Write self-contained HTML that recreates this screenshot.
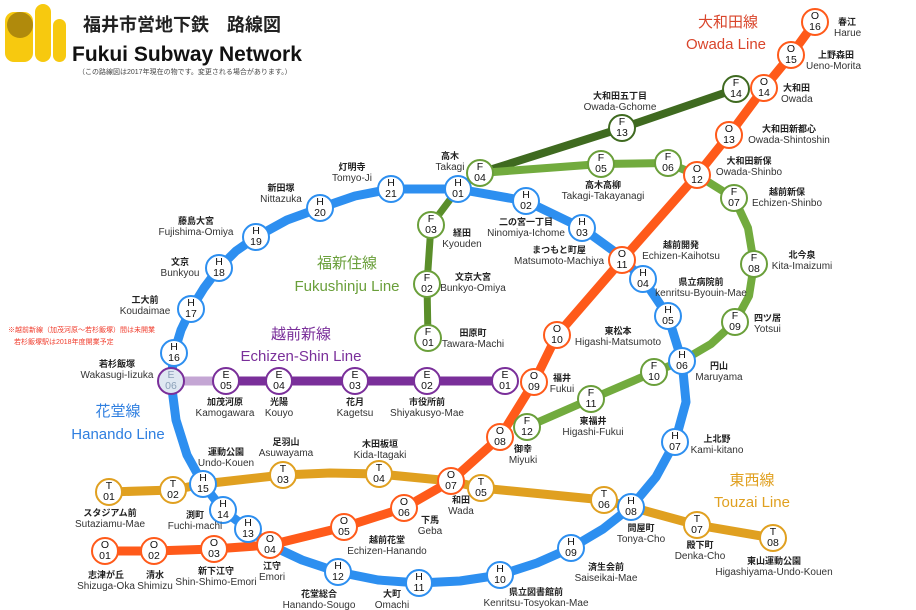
<!DOCTYPE html>
<html><head><meta charset="utf-8"><style>
html,body{margin:0;padding:0;background:#fff;}
svg{display:block;}
text{font-family:"Liberation Sans","Noto Sans CJK JP",sans-serif;}
.j{font-size:9px;font-weight:bold;fill:#222;}
.e{font-size:10px;fill:#333;}
.s text{font-size:10.5px;fill:#111;text-anchor:middle;}
.s circle{fill:#fff;stroke-width:2;}
</style></head><body>
<svg width="916" height="610" viewBox="0 0 916 610" xmlns="http://www.w3.org/2000/svg">
<rect x="5" y="12" width="28" height="50" rx="9" fill="#f7c90f"/>
<rect x="35" y="4" width="16" height="58" rx="8" fill="#f7c90f"/>
<rect x="53" y="19" width="13" height="43" rx="6.5" fill="#f7c90f"/>
<circle cx="20" cy="25" r="13" fill="#b08a0c"/>
<text x="83" y="31" style="font-size:18px;font-weight:bold;fill:#222">福井市営地下鉄　路線図</text>
<text x="72" y="61" style="font-size:21px;font-weight:bold;fill:#111">Fukui Subway Network</text>
<text x="78" y="74" style="font-size:7px;fill:#444">（この路線図は2017年現在の物です。変更される場合があります。）</text>
<text x="8" y="332" style="font-size:7px;fill:#f03a2a">※越前新線（加茂河原～若杉飯塚）間は未開業</text>
<text x="14" y="344" style="font-size:7px;fill:#f03a2a">若杉飯塚駅は2018年度開業予定</text>
<g style="text-anchor:middle">
<text x="728" y="27" style="font-size:15px;fill:#d9452b">大和田線</text>
<text x="726" y="49" style="font-size:15px;fill:#d9452b">Owada Line</text>
<text x="347" y="268" style="font-size:15px;fill:#6a9f3a">福新住線</text>
<text x="347" y="291" style="font-size:15px;fill:#6a9f3a">Fukushinju Line</text>
<text x="301" y="339" style="font-size:15px;fill:#7a2f9a">越前新線</text>
<text x="301" y="361" style="font-size:15px;fill:#7a2f9a">Echizen-Shin Line</text>
<text x="118" y="416" style="font-size:15px;fill:#2f7fe0">花堂線</text>
<text x="118" y="439" style="font-size:15px;fill:#2f7fe0">Hanando Line</text>
<text x="752" y="485" style="font-size:15px;fill:#e0a020">東西線</text>
<text x="752" y="507" style="font-size:15px;fill:#e0a020">Touzai Line</text>
</g>
<g fill="none" stroke-linejoin="round" stroke-linecap="round">
<polyline stroke="#2d8ff0" stroke-width="9" points="391,189 458,189 526,201 582,228 615,252 643,279 668,316 682,361 686,402 675,442 656,477 631,507 603,529 571,548 537,563 500,575 460,581 419,583 378,580 338,572 302,560 270,545 248,529 223,510 203,484 187,455 176,420 171,381 174,353 181,330 191,309 204,288 219,268 236,251 256,237 287,220 320,208 355,196 391,189"/>
<polyline stroke="#5a8e2a" stroke-width="7" points="428,338 427,284 431,225 458,189 480,173"/>
<polyline stroke="#3f6a20" stroke-width="8" points="480,173 622,128 736,89"/>
<polyline stroke="#72ab3e" stroke-width="8" points="480,173 601,164 668,163 697,175 734,198 748,228 754,264 749,296 735,322 711,344 682,361 654,372 591,399 527,427"/>
<polyline stroke="#c4a6d4" stroke-width="9" points="171,381 226,381"/>
<polyline stroke="#7a2f9a" stroke-width="9" points="226,381 505,381"/>
<polyline stroke="#e0a020" stroke-width="9" points="109,492 173,490 203,484 283,475 330,473 379,474 451,481 481,488 604,500 631,507 697,525 773,538"/>
<polyline stroke="#ff5a1a" stroke-width="9" points="105,551 154,551 214,549 270,545 344,527 404,508 451,481 500,437 534,382 557,335 622,260 697,175 729,135 764,88 791,55 815,22"/>
</g>
<g class="s">
<g stroke="#2d8ff0">
<circle cx="458" cy="189" r="13"/><circle cx="526" cy="201" r="13"/><circle cx="582" cy="228" r="13"/><circle cx="643" cy="279" r="13"/><circle cx="668" cy="316" r="13"/><circle cx="682" cy="361" r="13"/><circle cx="675" cy="442" r="13"/><circle cx="631" cy="507" r="13"/><circle cx="571" cy="548" r="13"/><circle cx="500" cy="575" r="13"/><circle cx="419" cy="583" r="13"/><circle cx="338" cy="572" r="13"/><circle cx="248" cy="529" r="13"/><circle cx="223" cy="510" r="13"/><circle cx="203" cy="484" r="13"/><circle cx="174" cy="353" r="13"/><circle cx="191" cy="309" r="13"/><circle cx="219" cy="268" r="13"/><circle cx="256" cy="237" r="13"/><circle cx="320" cy="208" r="13"/><circle cx="391" cy="189" r="13"/>
</g>
<g stroke="#ff5a1a">
<circle cx="105" cy="551" r="13"/><circle cx="154" cy="551" r="13"/><circle cx="214" cy="549" r="13"/><circle cx="270" cy="545" r="13"/><circle cx="344" cy="527" r="13"/><circle cx="404" cy="508" r="13"/><circle cx="451" cy="481" r="13"/><circle cx="500" cy="437" r="13"/><circle cx="534" cy="382" r="13"/><circle cx="557" cy="335" r="13"/><circle cx="622" cy="260" r="13"/><circle cx="697" cy="175" r="13"/><circle cx="729" cy="135" r="13"/><circle cx="764" cy="88" r="13"/><circle cx="791" cy="55" r="13"/><circle cx="815" cy="22" r="13"/>
</g>
<g stroke="#6a9f3a">
<circle cx="428" cy="338" r="13"/><circle cx="427" cy="284" r="13"/><circle cx="431" cy="225" r="13"/><circle cx="480" cy="173" r="13"/><circle cx="601" cy="164" r="13"/><circle cx="668" cy="163" r="13"/><circle cx="734" cy="198" r="13"/><circle cx="754" cy="264" r="13"/><circle cx="735" cy="322" r="13"/><circle cx="654" cy="372" r="13"/><circle cx="591" cy="399" r="13"/><circle cx="527" cy="427" r="13"/>
</g>
<g stroke="#3f6a20"><circle cx="622" cy="128" r="13"/><circle cx="736" cy="89" r="13"/></g>
<g stroke="#7a2f9a">
<circle cx="505" cy="381" r="13"/><circle cx="427" cy="381" r="13"/><circle cx="355" cy="381" r="13"/><circle cx="279" cy="381" r="13"/><circle cx="226" cy="381" r="13"/>
<circle cx="171" cy="381" r="13" style="fill:#dfe8f2"/>
</g>
<g stroke="#e0a020">
<circle cx="109" cy="492" r="13"/><circle cx="173" cy="490" r="13"/><circle cx="283" cy="475" r="13"/><circle cx="379" cy="474" r="13"/><circle cx="481" cy="488" r="13"/><circle cx="604" cy="500" r="13"/><circle cx="697" cy="525" r="13"/><circle cx="773" cy="538" r="13"/>
</g>
<text x="458" y="186">H</text><text x="458" y="197">01</text>
<text x="526" y="198">H</text><text x="526" y="209">02</text>
<text x="582" y="225">H</text><text x="582" y="236">03</text>
<text x="643" y="276">H</text><text x="643" y="287">04</text>
<text x="668" y="313">H</text><text x="668" y="324">05</text>
<text x="682" y="358">H</text><text x="682" y="369">06</text>
<text x="675" y="439">H</text><text x="675" y="450">07</text>
<text x="631" y="504">H</text><text x="631" y="515">08</text>
<text x="571" y="545">H</text><text x="571" y="556">09</text>
<text x="500" y="572">H</text><text x="500" y="583">10</text>
<text x="419" y="580">H</text><text x="419" y="591">11</text>
<text x="338" y="569">H</text><text x="338" y="580">12</text>
<text x="248" y="526">H</text><text x="248" y="537">13</text>
<text x="223" y="507">H</text><text x="223" y="518">14</text>
<text x="203" y="481">H</text><text x="203" y="492">15</text>
<text x="174" y="350">H</text><text x="174" y="361">16</text>
<text x="191" y="306">H</text><text x="191" y="317">17</text>
<text x="219" y="265">H</text><text x="219" y="276">18</text>
<text x="256" y="234">H</text><text x="256" y="245">19</text>
<text x="320" y="205">H</text><text x="320" y="216">20</text>
<text x="391" y="186">H</text><text x="391" y="197">21</text>
<text x="105" y="548">O</text><text x="105" y="559">01</text>
<text x="154" y="548">O</text><text x="154" y="559">02</text>
<text x="214" y="546">O</text><text x="214" y="557">03</text>
<text x="270" y="542">O</text><text x="270" y="553">04</text>
<text x="344" y="524">O</text><text x="344" y="535">05</text>
<text x="404" y="505">O</text><text x="404" y="516">06</text>
<text x="451" y="478">O</text><text x="451" y="489">07</text>
<text x="500" y="434">O</text><text x="500" y="445">08</text>
<text x="534" y="379">O</text><text x="534" y="390">09</text>
<text x="557" y="332">O</text><text x="557" y="343">10</text>
<text x="622" y="257">O</text><text x="622" y="268">11</text>
<text x="697" y="172">O</text><text x="697" y="183">12</text>
<text x="729" y="132">O</text><text x="729" y="143">13</text>
<text x="764" y="85">O</text><text x="764" y="96">14</text>
<text x="791" y="52">O</text><text x="791" y="63">15</text>
<text x="815" y="19">O</text><text x="815" y="30">16</text>
<text x="428" y="335">F</text><text x="428" y="346">01</text>
<text x="427" y="281">F</text><text x="427" y="292">02</text>
<text x="431" y="222">F</text><text x="431" y="233">03</text>
<text x="480" y="170">F</text><text x="480" y="181">04</text>
<text x="601" y="161">F</text><text x="601" y="172">05</text>
<text x="668" y="160">F</text><text x="668" y="171">06</text>
<text x="734" y="195">F</text><text x="734" y="206">07</text>
<text x="754" y="261">F</text><text x="754" y="272">08</text>
<text x="735" y="319">F</text><text x="735" y="330">09</text>
<text x="654" y="369">F</text><text x="654" y="380">10</text>
<text x="591" y="396">F</text><text x="591" y="407">11</text>
<text x="527" y="424">F</text><text x="527" y="435">12</text>
<text x="622" y="125">F</text><text x="622" y="136">13</text>
<text x="736" y="86">F</text><text x="736" y="97">14</text>
<text x="505" y="378">E</text><text x="505" y="389">01</text>
<text x="427" y="378">E</text><text x="427" y="389">02</text>
<text x="355" y="378">E</text><text x="355" y="389">03</text>
<text x="279" y="378">E</text><text x="279" y="389">04</text>
<text x="226" y="378">E</text><text x="226" y="389">05</text>
<text x="171" y="378" style="fill:#8aa0b8">E</text><text x="171" y="389" style="fill:#8aa0b8">06</text>
<text x="109" y="489">T</text><text x="109" y="500">01</text>
<text x="173" y="487">T</text><text x="173" y="498">02</text>
<text x="283" y="472">T</text><text x="283" y="483">03</text>
<text x="379" y="471">T</text><text x="379" y="482">04</text>
<text x="481" y="485">T</text><text x="481" y="496">05</text>
<text x="604" y="497">T</text><text x="604" y="508">06</text>
<text x="697" y="522">T</text><text x="697" y="533">07</text>
<text x="773" y="535">T</text><text x="773" y="546">08</text>
</g>
<g style="text-anchor:middle">
<text class="j" x="352" y="170">灯明寺</text><text class="e" x="352" y="181">Tomyo-Ji</text>
<text class="j" x="281" y="191">新田塚</text><text class="e" x="281" y="202">Nittazuka</text>
<text class="j" x="196" y="224">藤島大宮</text><text class="e" x="196" y="235">Fujishima-Omiya</text>
<text class="j" x="180" y="265">文京</text><text class="e" x="180" y="276">Bunkyou</text>
<text class="j" x="145" y="303">工大前</text><text class="e" x="145" y="314">Koudaimae</text>
<text class="j" x="450" y="159">高木</text><text class="e" x="450" y="170">Takagi</text>
<text class="j" x="462" y="236">経田</text><text class="e" x="462" y="247">Kyouden</text>
<text class="j" x="473" y="280">文京大宮</text><text class="e" x="473" y="291">Bunkyo-Omiya</text>
<text class="j" x="473" y="336">田原町</text><text class="e" x="473" y="347">Tawara-Machi</text>
<text class="j" x="789" y="132">大和田新都心</text><text class="e" x="789" y="143">Owada-Shintoshin</text>
<text class="j" x="749" y="164">大和田新保</text><text class="e" x="749" y="175">Owada-Shinbo</text>
<text class="j" x="787" y="195">越前新保</text><text class="e" x="787" y="206">Echizen-Shinbo</text>
<text class="j" x="802" y="258">北今泉</text><text class="e" x="802" y="269">Kita-Imaizumi</text>
<text class="j" x="681" y="248">越前開発</text><text class="e" x="681" y="259">Echizen-Kaihotsu</text>
<text class="j" x="701" y="285">県立病院前</text><text class="e" x="701" y="296">kenritsu-Byouin-Mae</text>
<text class="j" x="620" y="99">大和田五丁目</text><text class="e" x="620" y="110">Owada-Gchome</text>
<text class="j" x="603" y="188">高木高柳</text><text class="e" x="603" y="199">Takagi-Takayanagi</text>
<text class="j" x="526" y="225">二の宮一丁目</text><text class="e" x="526" y="236">Ninomiya-Ichome</text>
<text class="j" x="559" y="253">まつもと町屋</text><text class="e" x="559" y="264">Matsumoto-Machiya</text>
<text class="j" x="117" y="367">若杉飯塚</text><text class="e" x="117" y="378">Wakasugi-Iizuka</text>
<text class="j" x="225" y="405">加茂河原</text><text class="e" x="225" y="416">Kamogawara</text>
<text class="j" x="279" y="405">光陽</text><text class="e" x="279" y="416">Kouyo</text>
<text class="j" x="355" y="405">花月</text><text class="e" x="355" y="416">Kagetsu</text>
<text class="j" x="427" y="405">市役所前</text><text class="e" x="427" y="416">Shiyakusyo-Mae</text>
<text class="j" x="226" y="455">運動公園</text><text class="e" x="226" y="466">Undo-Kouen</text>
<text class="j" x="286" y="445">足羽山</text><text class="e" x="286" y="456">Asuwayama</text>
<text class="j" x="380" y="447">木田板垣</text><text class="e" x="380" y="458">Kida-Itagaki</text>
<text class="j" x="110" y="516">スタジアム前</text><text class="e" x="110" y="527">Sutaziamu-Mae</text>
<text class="j" x="195" y="518">渕町</text><text class="e" x="195" y="529">Fuchi-machi</text>
<text class="j" x="106" y="578">志津が丘</text><text class="e" x="106" y="589">Shizuga-Oka</text>
<text class="j" x="155" y="578">清水</text><text class="e" x="155" y="589">Shimizu</text>
<text class="j" x="216" y="574">新下江守</text><text class="e" x="216" y="585">Shin-Shimo-Emori</text>
<text class="j" x="272" y="569">江守</text><text class="e" x="272" y="580">Emori</text>
<text class="j" x="319" y="597">花堂総合</text><text class="e" x="319" y="608">Hanando-Sougo</text>
<text class="j" x="392" y="597">大町</text><text class="e" x="392" y="608">Omachi</text>
<text class="j" x="387" y="543">越前花堂</text><text class="e" x="387" y="554">Echizen-Hanando</text>
<text class="j" x="430" y="523">下馬</text><text class="e" x="430" y="534">Geba</text>
<text class="j" x="461" y="503">和田</text><text class="e" x="461" y="514">Wada</text>
<text class="j" x="618" y="334">東松本</text><text class="e" x="618" y="345">Higashi-Matsumoto</text>
<text class="j" x="562" y="381">福井</text><text class="e" x="562" y="392">Fukui</text>
<text class="j" x="593" y="424">東福井</text><text class="e" x="593" y="435">Higashi-Fukui</text>
<text class="j" x="523" y="452">御幸</text><text class="e" x="523" y="463">Miyuki</text>
<text class="j" x="719" y="369">円山</text><text class="e" x="719" y="380">Maruyama</text>
<text class="j" x="717" y="442">上北野</text><text class="e" x="717" y="453">Kami-kitano</text>
<text class="j" x="641" y="531">問屋町</text><text class="e" x="641" y="542">Tonya-Cho</text>
<text class="j" x="700" y="548">殿下町</text><text class="e" x="700" y="559">Denka-Cho</text>
<text class="j" x="774" y="564">東山運動公園</text><text class="e" x="774" y="575">Higashiyama-Undo-Kouen</text>
<text class="j" x="606" y="570">済生会前</text><text class="e" x="606" y="581">Saiseikai-Mae</text>
<text class="j" x="536" y="595">県立図書館前</text><text class="e" x="536" y="606">Kenritsu-Tosyokan-Mae</text>
</g>
<g>
<text class="j" x="838" y="25">春江</text><text class="e" x="834" y="36">Harue</text>
<text class="j" x="818" y="58">上野森田</text><text class="e" x="806" y="69">Ueno-Morita</text>
<text class="j" x="783" y="91">大和田</text><text class="e" x="781" y="102">Owada</text>
<text class="j" x="754" y="321">四ツ居</text><text class="e" x="754" y="332">Yotsui</text>
</g>
</svg>
</body></html>
